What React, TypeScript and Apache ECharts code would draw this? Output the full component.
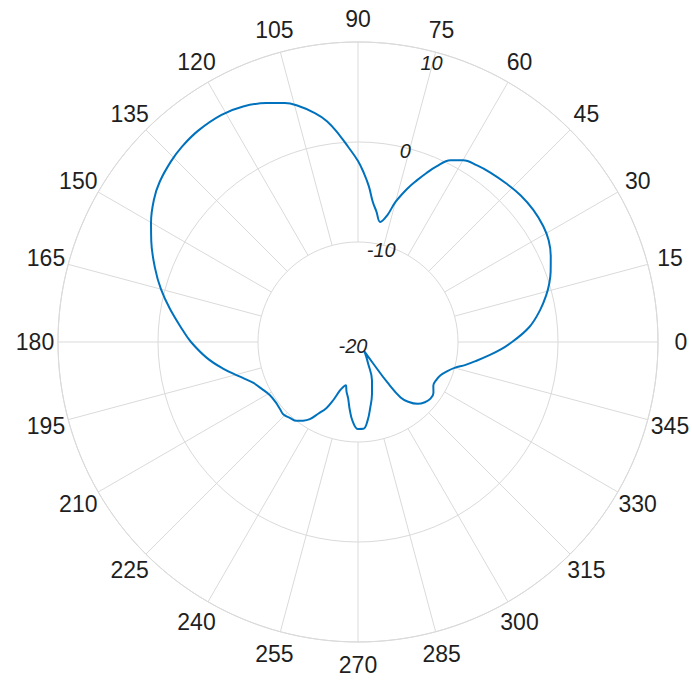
import React, { useEffect, useRef } from "react";
import * as echarts from "echarts";

// Angle axis ticks (degrees) and radial ticks (dB)
const angleTicks = [0, 15, 30, 45, 60, 75, 90, 105, 120, 135, 150, 165, 180, 195, 210, 225, 240, 255, 270, 285, 300, 315, 330, 345];
const radialTicks = [-20, -10, 0, 10];

// Pattern: angle (deg) and gain (dB)
const thetaDeg = [
  0, 5, 10, 14, 17, 20, 24, 28, 32, 37, 42, 47, 52, 56, 60, 63, 66, 68, 70, 72, 75, 77, 79.5, 82, 84, 86, 88, 90, 93, 95, 98,
  101, 104, 107, 111, 116, 121, 127, 132, 136, 141, 145, 150, 154, 160, 165, 170, 176, 180, 186, 191, 196, 201, 206, 211,
  216, 221, 224, 228, 232, 235, 238, 241, 244.5, 247, 249.5, 252, 254.4, 257, 260, 263, 266, 270, 273.5, 277, 280.5, 285,
  290, 295.5, 300, 304, 305.2, 306, 307.5, 310, 314, 318, 322, 326, 330, 334, 338, 342, 345, 348, 351, 354, 357, 360,
];
const gainDb = [
  -4.6, -2.8, -1.5, -0.6, 0.0, 0.5, 1.1, 1.6, 1.85, 1.95, 1.9, 1.7, 1.5, 1.3, 1.0, 0.4, -0.8, -1.8, -2.8, -3.8, -5.5, -7.0, -7.8, -6.8, -5.9, -4.4, -3.1, -1.9, -0.4, 0.7, 2.3,
  3.4, 4.3, 5.0, 5.6, 6.2, 6.5, 6.5, 6.3, 6.0, 5.5, 4.9, 3.9, 3.0, 1.6, 0.4, -0.9, -2.4, -3.3, -4.8, -6.2, -7.6, -8.7, -9.3, -9.7,
  -9.8, -9.7, -9.6, -9.8, -10.0, -10.4, -10.9, -11.8, -12.7, -13.7, -14.8, -15.3, -15.5, -14.9, -14.3, -13.2, -12.1, -11.3, -11.3, -12.1, -13.3, -14.6,
  -15.9, -17.7, -18.4, -18.9, -17.4, -15.0, -13.0, -12.2, -11.4, -11.0, -10.8, -10.9, -11.3, -11.3, -11.1, -10.6, -10.0, -9.0, -8.0, -6.9, -5.7, -4.6,
];

export default function App() {
  const ref = useRef<HTMLDivElement>(null);

  useEffect(() => {
    if (!ref.current) return;
    const chart = echarts.init(ref.current, null, { renderer: "svg" });
    const gridColor = "#dadada";
    const textColor = "#1f1f1f";
    const font = "'Liberation Sans', Arial, Helvetica, sans-serif";
    const rMin = radialTicks[0];
    const rMax = radialTicks[radialTicks.length - 1];
    const angleLabelR = rMax + 2.3; // just outside the outer circle

    const spokeSeries = angleTicks.map((a) => ({
      type: "line",
      coordinateSystem: "polar",
      data: [
        [radialTicks[1], a],
        [rMax, a],
      ],
      symbol: "none",
      silent: true,
      z: 1,
      lineStyle: { color: gridColor, width: 1 },
    }));

    const labelOffsets: Record<number, number[]> = { [-20]: [-5, 4], [-10]: [-1, 5], [0]: [-1, 3], [10]: [1, 12] };

    const baseLabel = {
      show: true,
      position: "inside",
      color: textColor,
      opacity: 1,
      textBorderWidth: 0,
      textBorderColor: "transparent",
      textShadowBlur: 0,
      fontFamily: font,
    };

    const option: any = {
      animation: false,
      polar: { center: [358, 342], radius: 300 },
      angleAxis: {
        type: "value",
        min: 0,
        max: 360,
        interval: 15,
        startAngle: 0,
        clockwise: false,
        axisLine: { show: true, lineStyle: { color: gridColor, width: 1 } },
        axisTick: { show: false },
        splitLine: { show: false },
        axisLabel: { show: false },
      },
      radiusAxis: {
        type: "value",
        min: rMin,
        max: rMax,
        interval: 10,
        axisLine: { show: false },
        axisTick: { show: false },
        axisLabel: { show: false },
        splitLine: { show: true, lineStyle: { color: gridColor, width: 1 } },
      },
      series: [
        ...spokeSeries,
        {
          type: "line",
          coordinateSystem: "polar",
          data: thetaDeg.map((t, i) => [gainDb[i], t]),
          symbol: "none",
          smooth: 0.4,
          z: 3,
          lineStyle: { color: "#0072BD", width: 2 },
        },
        {
          type: "scatter",
          coordinateSystem: "polar",
          clip: false,
          silent: true,
          symbolSize: 1,
          z: 4,
          itemStyle: { color: "rgba(255,255,255,0)" },
          data: radialTicks.map((v) => ({
            value: [v, 76],
            label: { offset: labelOffsets[v] || [0, 0] },
          })),
          label: {
            ...baseLabel,
            fontSize: 20,
            fontStyle: "italic",
            formatter: (p: any) => String(p.value[0]),
          },
        },
        {
          type: "scatter",
          coordinateSystem: "polar",
          clip: false,
          silent: true,
          symbolSize: 1,
          z: 4,
          itemStyle: { color: "rgba(255,255,255,0)" },
          data: angleTicks.map((a) => [angleLabelR, a]),
          label: {
            ...baseLabel,
            fontSize: 23,
            formatter: (p: any) => String(p.value[1]),
          },
        },
      ],
    };
    chart.setOption(option);
    return () => chart.dispose();
  }, []);

  return <div ref={ref} style={{ position: "absolute", left: 0, top: 0, width: 692, height: 684 }} />;
}
